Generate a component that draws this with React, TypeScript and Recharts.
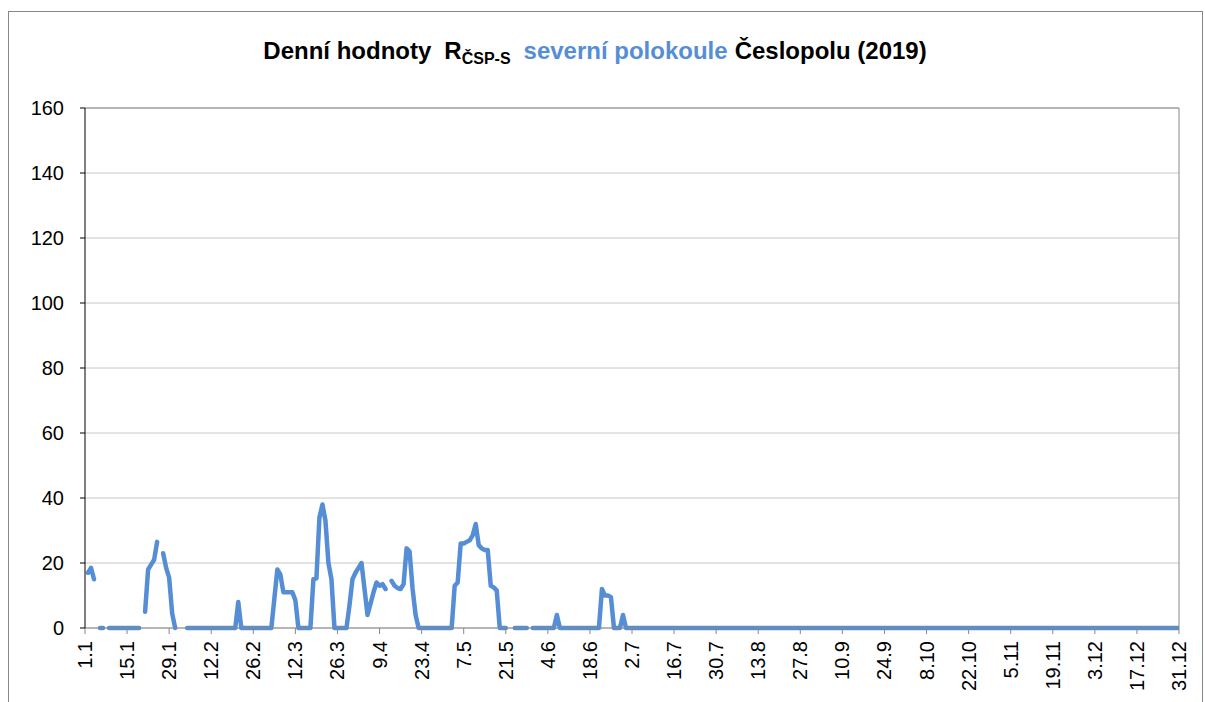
import React from 'react';
import { LineChart, Line, XAxis, YAxis, CartesianGrid, ReferenceLine } from 'recharts';

const tickLabels: string[] = ['1.1', '15.1', '29.1', '12.2', '26.2', '12.3', '26.3', '9.4', '23.4', '7.5', '21.5', '4.6', '18.6', '2.7', '16.7', '30.7', '13.8', '27.8', '10.9', '24.9', '8.10', '22.10', '5.11', '19.11', '3.12', '17.12', '31.12'];
const tickDays: number[] = [0, 14, 28, 42, 56, 70, 84, 98, 112, 126, 140, 154, 168, 182, 196, 210, 224, 238, 252, 266, 280, 294, 308, 322, 336, 350, 364];
const yTicks: number[] = [0, 20, 40, 60, 80, 100, 120, 140, 160];

// daily values (day 0 = 1.1.2019), null = no value
const values: (number | null)[] = [
  null, 17, 18.5, 15, null, 0, 0, null, 0, 0, 0, 0, 0, 0,
  0, 0, 0, 0, 0, null, 5, 18, 19.5, 21, 26.5, null, 23, 18.5,
  15.5, 4.5, 0, null, null, null, 0, 0, 0, 0, 0, 0, 0, 0,
  0, 0, 0, 0, 0, 0, 0, 0, 0, 8, 0, 0, 0, 0,
  0, 0, 0, 0, 0, 0, 0, 9, 18, 16.5, 11, 11, 11, 11,
  8.5, 0, 0, 0, 0, 0, 15, 15.3, 34, 38, 33, 20, 15, 0,
  0, 0, 0, 0, 7, 15, 17, 18.5, 20, 12, 4, 7.5, 11, 14,
  13, 13.5, 12, null, 14.5, 13, 12.3, 12, 13.5, 24.5, 23.5, 12, 4, 0,
  0, 0, 0, 0, 0, 0, 0, 0, 0, 0, 0, 13, 14, 26,
  26, 26.5, 27, 28.5, 32, 25.5, 24.5, 24, 24, 13, 12.5, 11.5, 0, 0,
  0, null, null, 0, 0, 0, 0, 0, null, 0, 0, 0, 0, 0,
  0, 0, 0, 4, 0, 0, 0, 0, 0, 0, 0, 0, 0, 0,
  0, 0, 0, 0, 12, 10, 10, 9.5, 0, 0, 0, 4, 0, 0,
  0, 0, 0, 0, 0, 0, 0, 0, 0, 0, 0, 0, 0, 0,
  0, 0, 0, 0, 0, 0, 0, 0, 0, 0, 0, 0, 0, 0,
  0, 0, 0, 0, 0, 0, 0, 0, 0, 0, 0, 0, 0, 0,
  0, 0, 0, 0, 0, 0, 0, 0, 0, 0, 0, 0, 0, 0,
  0, 0, 0, 0, 0, 0, 0, 0, 0, 0, 0, 0, 0, 0,
  0, 0, 0, 0, 0, 0, 0, 0, 0, 0, 0, 0, 0, 0,
  0, 0, 0, 0, 0, 0, 0, 0, 0, 0, 0, 0, 0, 0,
  0, 0, 0, 0, 0, 0, 0, 0, 0, 0, 0, 0, 0, 0,
  0, 0, 0, 0, 0, 0, 0, 0, 0, 0, 0, 0, 0, 0,
  0, 0, 0, 0, 0, 0, 0, 0, 0, 0, 0, 0, 0, 0,
  0, 0, 0, 0, 0, 0, 0, 0, 0, 0, 0, 0, 0, 0,
  0, 0, 0, 0, 0, 0, 0, 0, 0, 0, 0, 0, 0, 0,
  0, 0, 0, 0, 0, 0, 0, 0, 0, 0, 0, 0, 0, 0,
  0,
];

const data = values.map((v, i) => ({ day: i, r: v }));

const FONT = '"Liberation Sans", Arial, sans-serif';
const BLUE = '#558ED5';

const XTick = (props: any) => {
  const { x, y, payload } = props;
  const idx = tickDays.indexOf(payload.value);
  const label = idx >= 0 ? tickLabels[idx] : '';
  return (
    <text
      x={x}
      y={y}
      transform={`rotate(-90 ${x} ${y})`}
      textAnchor="end"
      dominantBaseline="central"
      fontSize={20}
      fontFamily={FONT}
      fill="#000"
    >
      {label}
    </text>
  );
};

const YTick = (props: any) => {
  const { x, y, payload } = props;
  return (
    <text x={x} y={y} textAnchor="end" dominantBaseline="central" fontSize={20} fontFamily={FONT} fill="#000">
      {payload.value}
    </text>
  );
};

export default function App() {
  return (
    <div style={{ position: 'fixed', left: 0, top: 0, width: 1205, height: 702, overflow: 'hidden', background: '#fff' }}>
      <div style={{ position: 'absolute', left: 8, top: 11, width: 1193, height: 800, border: '1px solid #888', boxSizing: 'content-box' }} />
      <div style={{ position: 'absolute', left: 0, top: 0 }}>
        <LineChart width={1205} height={702} data={data} margin={{ top: 108, right: 26, bottom: 0, left: 0 }}>
          <CartesianGrid vertical={false} stroke="#C8C8C8" />
          <XAxis
            dataKey="day"
            type="number"
            domain={[0, 364]}
            ticks={tickDays}
            interval={0}
            height={74}
            stroke="#888"
            tickSize={6}
            tickMargin={7}
            tick={XTick}
            allowDataOverflow
          />
          <YAxis
            type="number"
            domain={[0, 160]}
            ticks={yTicks}
            interval={0}
            width={85}
            stroke="#000"
            tickSize={5}
            tickMargin={16}
            tick={YTick}
          />
          <ReferenceLine y={160} stroke="#888" />
          <ReferenceLine x={364} stroke="#888" />
          <Line
            type="linear"
            dataKey="r"
            stroke={BLUE}
            strokeWidth={4.5}
            strokeLinecap="round"
            strokeLinejoin="round"
            dot={false}
            activeDot={false}
            connectNulls={false}
            isAnimationActive={false}
          />
        </LineChart>
      </div>
      <svg width={1205} height={90} style={{ position: 'absolute', left: 0, top: 0 }}>
        <text x={595} y={59} textAnchor="middle" fontFamily={FONT} fontWeight="bold" fontSize={24} fill="#000">
          <tspan>Denní hodnoty</tspan>
          <tspan dx={13}>R</tspan>
          <tspan fontSize={16} dy={5}>ČSP-S</tspan>
          <tspan dx={13} dy={-5} fill={BLUE}>severní polokoule</tspan>
          <tspan dx={7}>Česlopolu (2019)</tspan>
        </text>
      </svg>
    </div>
  );
}
